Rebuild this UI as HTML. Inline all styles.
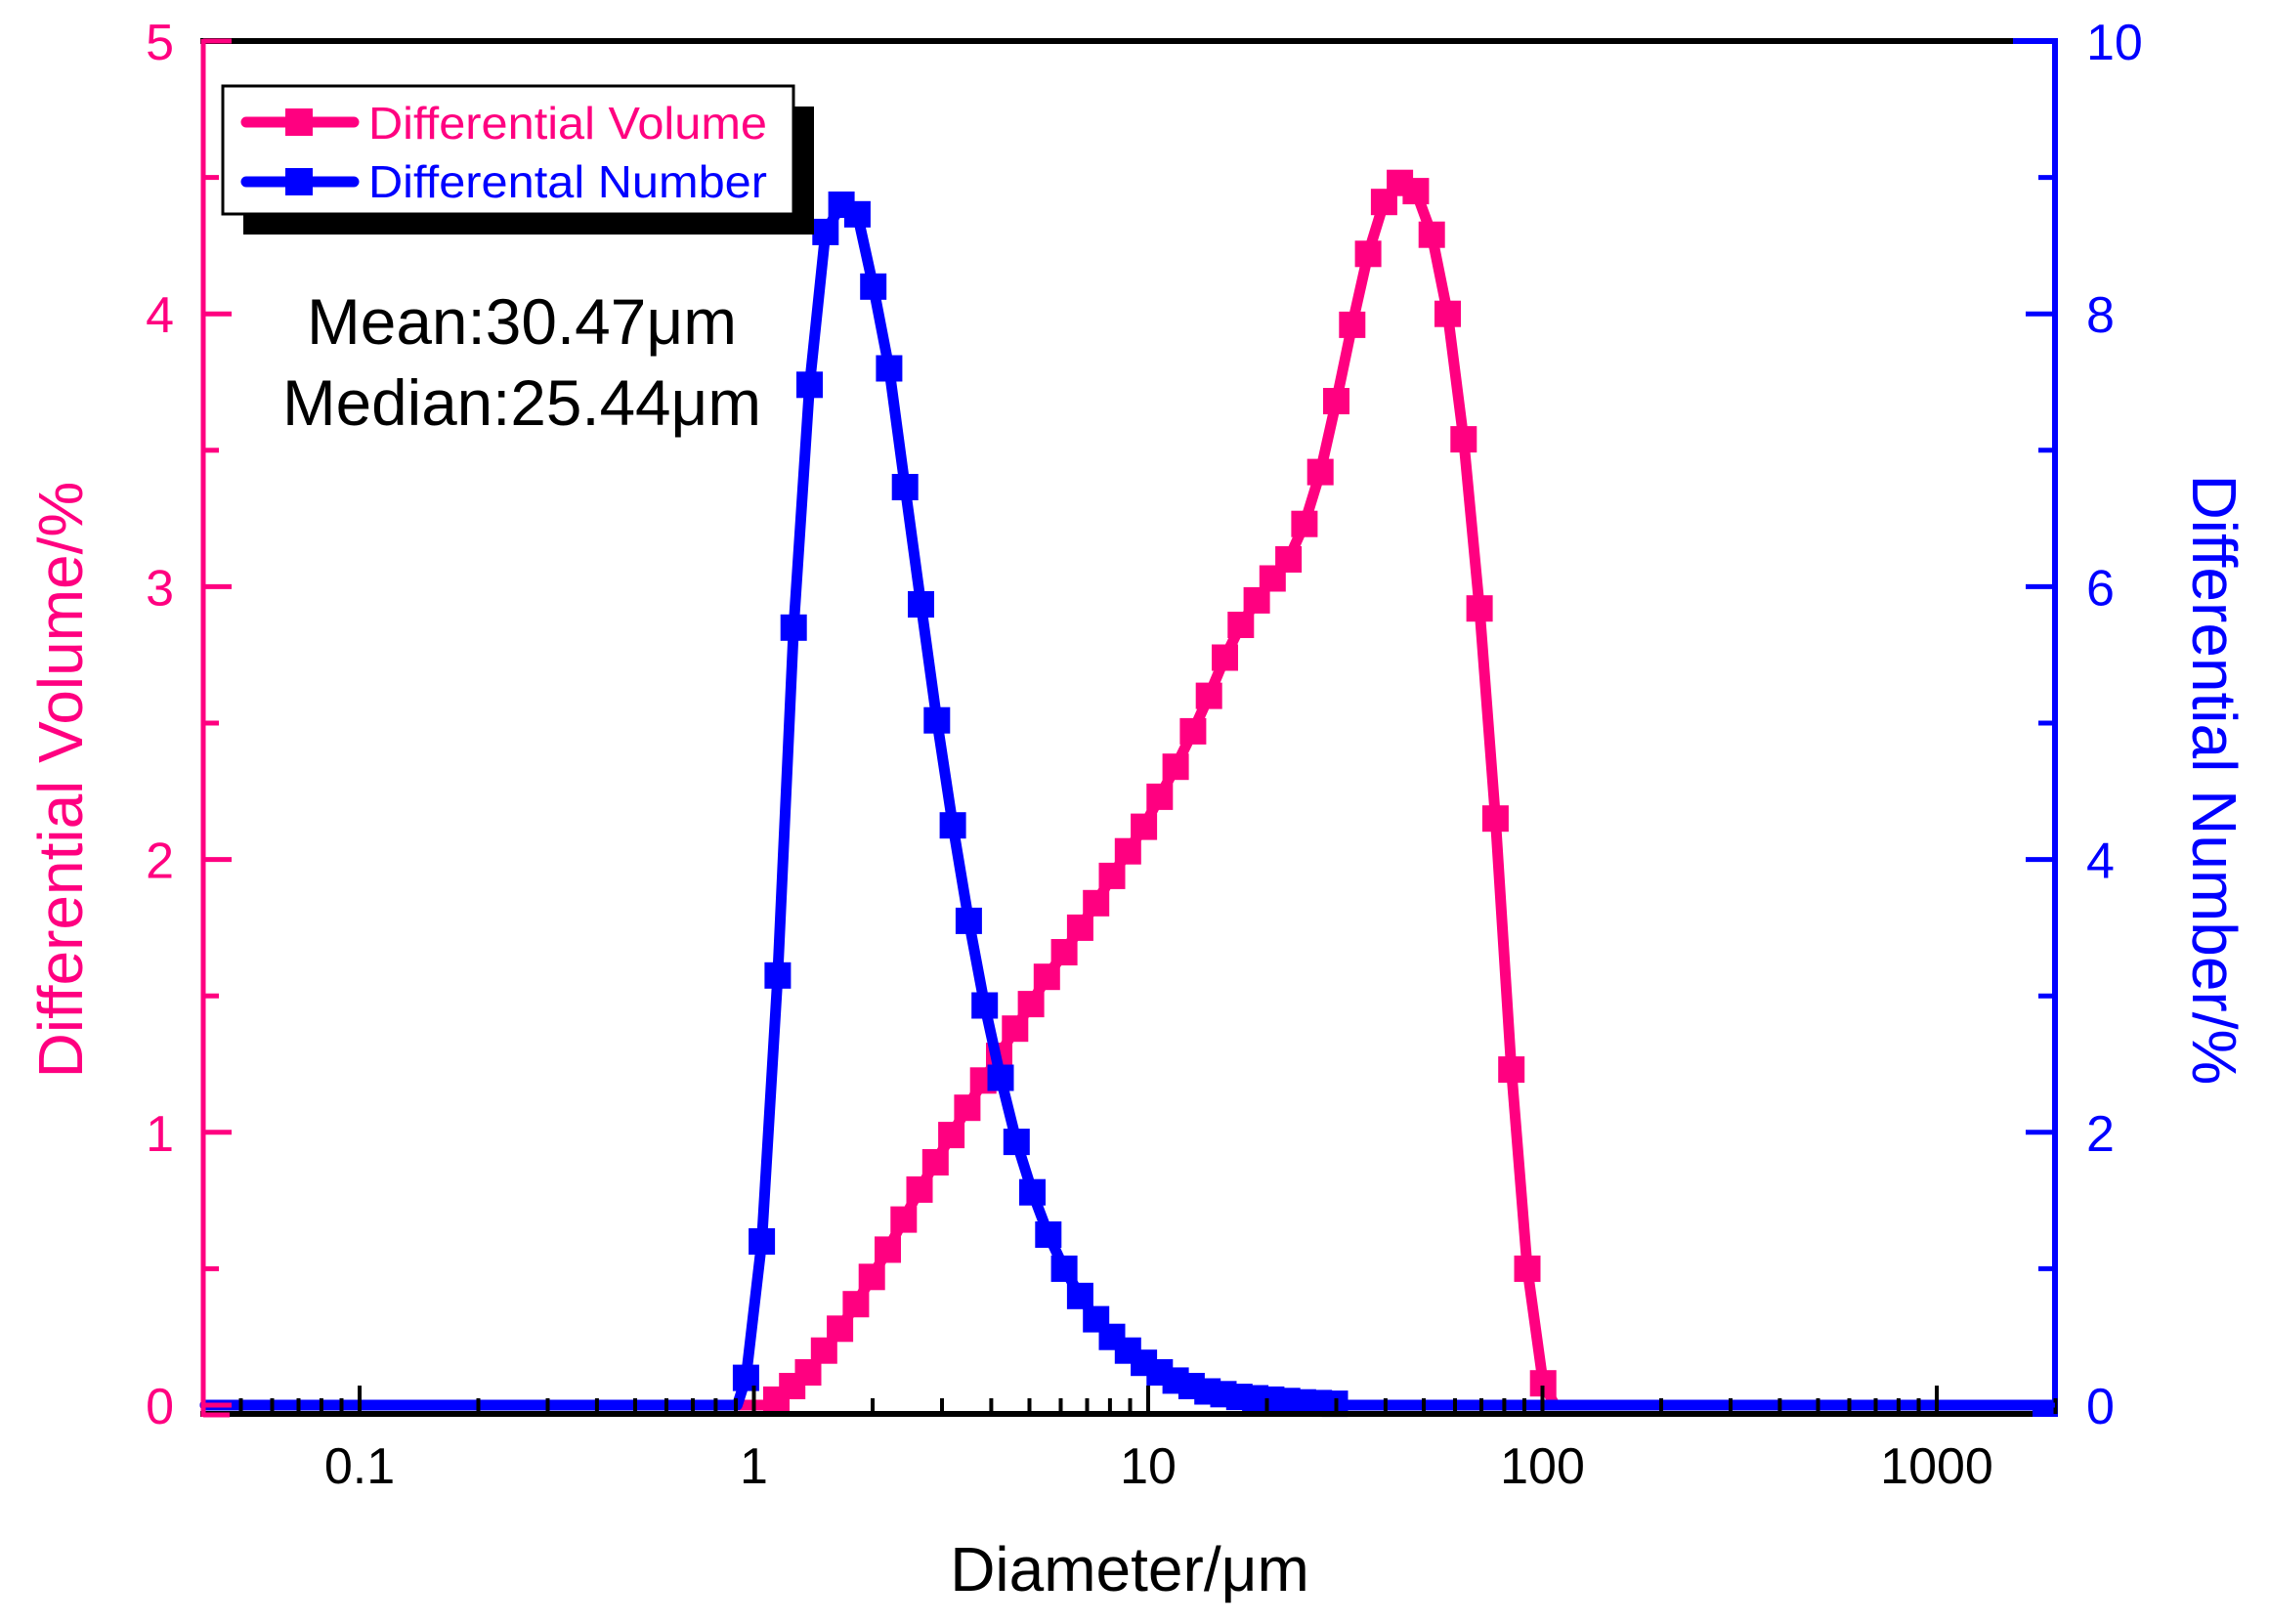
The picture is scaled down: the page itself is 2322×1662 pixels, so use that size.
<!DOCTYPE html>
<html><head><meta charset="utf-8"><style>
html,body{margin:0;padding:0;background:#fff;}
svg{display:block;}
text{font-family:"Liberation Sans",Arial,sans-serif;}
</style></head><body>
<svg id="s" width="2322" height="1662" xmlns="http://www.w3.org/2000/svg"></svg>
<script>
var s=document.getElementById('s');var h='';
var PINK='#ff0080',BLUE='#0000ff';
function X(d){return 368+403.5*(Math.log10(d)+1);}
function XD(xd){return 368+403.5*((xd-520.5)/272.5+1);}
var Y0=1438,SC=1396;
function YL(v){return Y0-v/5*SC;}function YR(v){return Y0-v/10*SC;}
var pv=[[536,.02],[547,.07],[558,.12],[569,.2],[580,.28],[591,.37],[602,.47],[613,.57],[624,.68],[635,.79],[646,.89],[657,.99],[668,1.09],[679,1.19],[690,1.28],[701,1.38],[712,1.47],[723,1.57],[735,1.66],[746,1.75],[757,1.84],[768,1.94],[779,2.03],[790,2.12],[801,2.23],[812,2.34],[824,2.47],[835,2.6],[846,2.74],[857,2.86],[868,2.95],[879,3.03],[890,3.1],[901,3.23],[912,3.42],[923,3.68],[934,3.96],[945,4.22],[956,4.41],[967,4.48],[978,4.45],[989,4.29],[1000,4.0],[1011,3.54],[1022,2.92],[1033,2.15],[1044,1.23],[1055,.5],[1066,.08]];
var bv=[[515,.2],[526,1.2],[537,3.15],[548,5.7],[559,7.48],[570,8.6],[581,8.8],[592,8.73],[603,8.2],[614,7.6],[625,6.73],[636,5.87],[647,5.02],[658,4.25],[669,3.55],[680,2.93],[691,2.4],[702,1.93],[713,1.56],[724,1.25],[735,1.0],[746,.8],[757,.63],[768,.5],[779,.4],[790,.31],[801,.24],[812,.18],[823,.14],[834,.1],[845,.08],[856,.06],[867,.05],[878,.04],[889,.03],[900,.02],[911,.015],[922,.01]];
function series(data,yf,col,x0,x1){
 var pts=[[x0,Y0],[XD(data[0][0]-6),Y0]];data.forEach(function(p){pts.push([XD(p[0]),yf(p[1])]);});pts.push([XD(data[data.length-1][0]+8),Y0]);pts.push([x1,Y0]);
 h+='<polyline points="'+pts.map(function(p){return p[0].toFixed(1)+','+p[1].toFixed(1)}).join(' ')+'" fill="none" stroke="'+col+'" stroke-width="11" stroke-linejoin="round" stroke-linecap="round"/>';
 data.forEach(function(p){h+='<rect x="'+(XD(p[0])-13.5).toFixed(1)+'" y="'+(yf(p[1])-13.5).toFixed(1)+'" width="27" height="27" fill="'+col+'"/>';});
}
series(pv,YL,PINK,210,2100);
series(bv,YR,BLUE,210,2100);
h+='<line x1="205" y1="42" x2="2106" y2="42" stroke="#000" stroke-width="6"/>';
h+='<line x1="2060" y1="42" x2="2106" y2="42" stroke="'+BLUE+'" stroke-width="6"/>';
h+='<line x1="205" y1="1447" x2="2106" y2="1447" stroke="#000" stroke-width="6"/>';
h+='<line x1="2080" y1="1444" x2="2103" y2="1444" stroke="'+BLUE+'" stroke-width="12"/>';
h+='<line x1="208" y1="40" x2="208" y2="1450" stroke="'+PINK+'" stroke-width="5"/>';
h+='<line x1="208" y1="1448" x2="235" y2="1448" stroke="'+PINK+'" stroke-width="5"/>';
h+='<line x1="2103" y1="39" x2="2103" y2="1450" stroke="'+BLUE+'" stroke-width="6"/>';
var decs=[0.01,0.1,1,10,100,1000];
decs.forEach(function(d){for(var k=1;k<10;k++){var v=d*k;if(v<0.045||v>2001)continue;var x=X(v);var maj=(k==1);
 h+='<line x1="'+x.toFixed(1)+'" y1="'+(maj?1418:1431)+'" x2="'+x.toFixed(1)+'" y2="1447" stroke="#000" stroke-width="4"/>';}});
var xl=[[0.1,'0.1'],[1,'1'],[10,'10'],[100,'100'],[1000,'1000']];
xl.forEach(function(l){h+='<text x="'+X(l[0]).toFixed(1)+'" y="1518" font-size="52" text-anchor="middle" fill="#000">'+l[1]+'</text>';});
for(var i=0;i<=10;i++){var y=Y0-i/10*SC;var maj=(i%2==0);
 h+='<line x1="208" y1="'+y+'" x2="'+(maj?237:224)+'" y2="'+y+'" stroke="'+PINK+'" stroke-width="5"/>';
 h+='<line x1="2103" y1="'+y+'" x2="'+(maj?2073:2086)+'" y2="'+y+'" stroke="'+BLUE+'" stroke-width="5"/>';
 if(maj){h+='<text x="178" y="'+(y+19)+'" font-size="52" text-anchor="end" fill="'+PINK+'">'+(i/2)+'</text>';
 h+='<text x="2135" y="'+(y+19)+'" font-size="52" fill="'+BLUE+'">'+i+'</text>';}}
h+='<text x="1156" y="1628" font-size="64" text-anchor="middle" fill="#000">Diameter/μm</text>';
h+='<text transform="translate(84,798) rotate(-90)" font-size="64" text-anchor="middle" fill="'+PINK+'">Differential Volume/%</text>';
h+='<text transform="translate(2244,798) rotate(90)" font-size="64" text-anchor="middle" fill="'+BLUE+'">Differential Number/%</text>';
h+='<rect x="249" y="109" width="584" height="131" fill="#000"/>';
h+='<rect x="228" y="88" width="584" height="131" fill="#fff" stroke="#000" stroke-width="3"/>';
h+='<line x1="252" y1="125" x2="362" y2="125" stroke="'+PINK+'" stroke-width="11" stroke-linecap="round"/><rect x="292" y="111" width="28" height="28" fill="'+PINK+'"/>';
h+='<line x1="252" y1="186" x2="362" y2="186" stroke="'+BLUE+'" stroke-width="11" stroke-linecap="round"/><rect x="292" y="172" width="28" height="28" fill="'+BLUE+'"/>';
h+='<text x="377" y="142" font-size="46" fill="'+PINK+'" textLength="408" lengthAdjust="spacingAndGlyphs">Differential Volume</text>';
h+='<text x="377" y="202" font-size="46" fill="'+BLUE+'" textLength="408" lengthAdjust="spacingAndGlyphs">Differental Number</text>';
h+='<text x="534" y="352" font-size="66" text-anchor="middle" fill="#000" textLength="440" lengthAdjust="spacingAndGlyphs">Mean:30.47μm</text>';
h+='<text x="534" y="435" font-size="66" text-anchor="middle" fill="#000" textLength="490" lengthAdjust="spacingAndGlyphs">Median:25.44μm</text>';
s.innerHTML=h;
</script>
</body></html>
